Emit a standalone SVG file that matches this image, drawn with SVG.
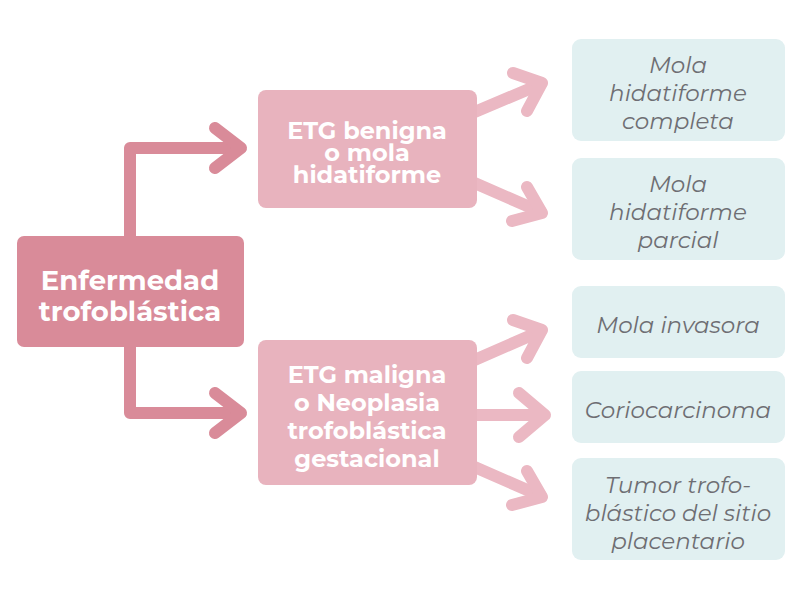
<svg xmlns="http://www.w3.org/2000/svg" width="803" height="602" viewBox="0 0 803 602">
<style>
.main{fill:#d98b99}
.mid{fill:#e8b3be}
.leaf{fill:#e1f0f1}
.c1{fill:none;stroke:#d98b99;stroke-width:12;stroke-linecap:round;stroke-linejoin:round}
.c2{fill:none;stroke:#ebb8c3;stroke-width:12;stroke-linecap:round;stroke-linejoin:round}
.tb{font-family:Montserrat,"Open Sans","Liberation Sans",sans-serif;font-weight:700;fill:#ffffff;text-anchor:middle}
.ti{font-family:Montserrat,"Open Sans","Liberation Sans",sans-serif;font-style:italic;fill:#6e6e73;text-anchor:middle;font-size:23px}
</style>
<rect width="803" height="602" fill="#ffffff"/>
<g id="connectors">
<polyline class="c1" points="130,236 130,148 240,148"/>
<polyline class="c1" points="215,128 241,148 215,168"/>
<polyline class="c1" points="130,347 130,413 240,413"/>
<polyline class="c1" points="215,393 241,413 215,433"/>
<line class="c2" x1="470" y1="114" x2="541" y2="84"/>
<polyline class="c2" points="513,73 542,83 527,111"/>
<line class="c2" x1="470" y1="181" x2="541" y2="212"/>
<polyline class="c2" points="527,187 542,213 512,221"/>
<line class="c2" x1="470" y1="362" x2="541" y2="331"/>
<polyline class="c2" points="513,320 542,330 527,358"/>
<line class="c2" x1="470" y1="415" x2="544" y2="415"/>
<polyline class="c2" points="519,393 545,415 519,437"/>
<line class="c2" x1="470" y1="465" x2="541" y2="496"/>
<polyline class="c2" points="527,471 542,497 512,505"/>
</g>
<g id="n-enfermedad">
<rect class="main" x="17" y="236" width="227" height="111" rx="7"/>
<text class="tb" font-size="27.5" x="130" y="290">Enfermedad</text>
<text class="tb" font-size="27.5" x="130" y="321">trofoblástica</text>
</g>
<g id="n-benigna">
<rect class="mid" x="258" y="90" width="219" height="118" rx="8"/>
<text class="tb" font-size="24" x="367" y="139">ETG benigna</text>
<text class="tb" font-size="24" x="367" y="161">o mola</text>
<text class="tb" font-size="24" x="367" y="183">hidatiforme</text>
</g>
<g id="n-maligna">
<rect class="mid" x="258" y="340" width="219" height="145" rx="8"/>
<text class="tb" font-size="24" x="367" y="383">ETG maligna</text>
<text class="tb" font-size="24" x="367" y="411">o Neoplasia</text>
<text class="tb" font-size="24" x="367" y="439">trofoblástica</text>
<text class="tb" font-size="24" x="367" y="467">gestacional</text>
</g>
<g id="n-completa">
<rect class="leaf" x="572" y="39" width="213" height="102" rx="9"/>
<text class="ti" x="678" y="73">Mola</text>
<text class="ti" x="678" y="101">hidatiforme</text>
<text class="ti" x="678" y="129">completa</text>
</g>
<g id="n-parcial">
<rect class="leaf" x="572" y="158" width="213" height="102" rx="9"/>
<text class="ti" x="678" y="192">Mola</text>
<text class="ti" x="678" y="220">hidatiforme</text>
<text class="ti" x="678" y="248">parcial</text>
</g>
<g id="n-invasora">
<rect class="leaf" x="572" y="286" width="213" height="72" rx="9"/>
<text class="ti" x="678" y="333">Mola invasora</text>
</g>
<g id="n-corio">
<rect class="leaf" x="572" y="371" width="213" height="72" rx="9"/>
<text class="ti" x="678" y="418">Coriocarcinoma</text>
</g>
<g id="n-tumor">
<rect class="leaf" x="572" y="458" width="213" height="102" rx="9"/>
<text class="ti" x="678" y="493">Tumor trofo-</text>
<text class="ti" x="678" y="521">blástico del sitio</text>
<text class="ti" x="678" y="549">placentario</text>
</g>
</svg>
